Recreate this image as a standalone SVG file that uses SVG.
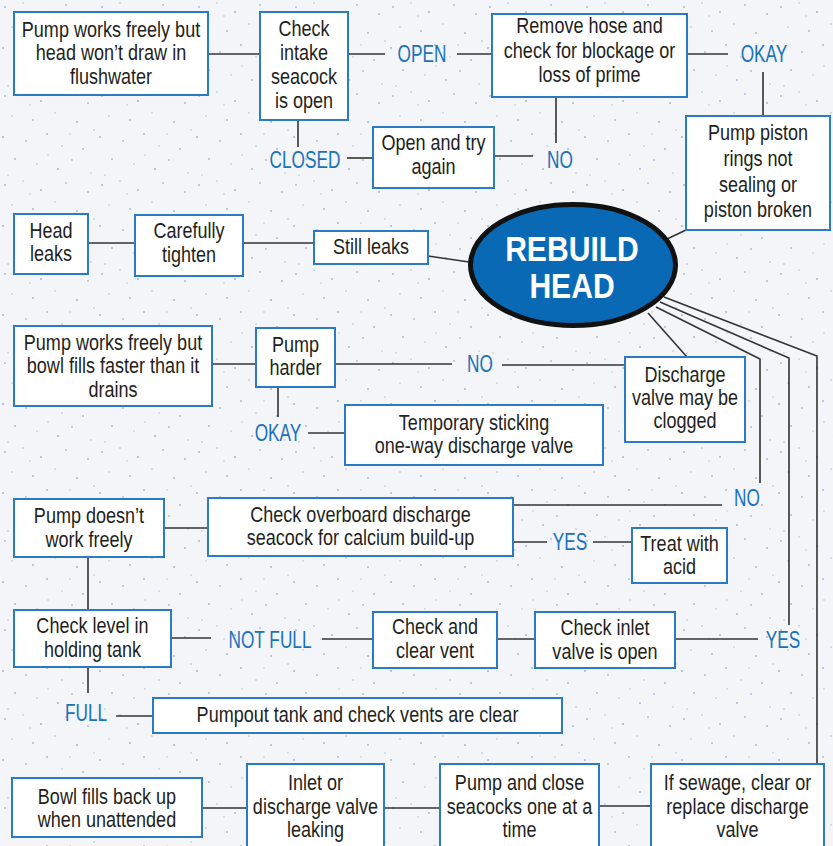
<svg xmlns="http://www.w3.org/2000/svg" width="833" height="846" viewBox="0 0 833 846">
<defs>
<pattern id="speck" width="97" height="89" patternUnits="userSpaceOnUse">
<g fill="#a7b8da">
<circle cx="5" cy="7" r="1"/><circle cx="23" cy="3" r="0.8"/><circle cx="41" cy="12" r="1.1"/><circle cx="66" cy="5" r="0.9"/><circle cx="88" cy="14" r="1"/>
<circle cx="12" cy="27" r="0.8"/><circle cx="33" cy="31" r="1"/><circle cx="55" cy="24" r="0.8"/><circle cx="77" cy="33" r="1.1"/><circle cx="94" cy="41" r="0.8"/>
<circle cx="3" cy="48" r="1.1"/><circle cx="26" cy="52" r="0.9"/><circle cx="47" cy="45" r="1"/><circle cx="62" cy="57" r="0.8"/><circle cx="83" cy="60" r="1"/>
<circle cx="15" cy="70" r="1"/><circle cx="37" cy="75" r="0.8"/><circle cx="58" cy="80" r="1.1"/><circle cx="72" cy="71" r="0.9"/><circle cx="91" cy="84" r="0.8"/>
<circle cx="8" cy="86" r="0.8"/><circle cx="48" cy="66" r="0.7"/><circle cx="30" cy="16" r="0.7"/><circle cx="70" cy="45" r="0.7"/>
</g>
</pattern>
<style>
.box{fill:#ffffff;stroke:#2a7bc4;stroke-width:2}
.t{font-family:"Liberation Sans",Arial,sans-serif;font-size:22px;fill:#231f20;text-anchor:middle}
.lb{font-family:"Liberation Sans",Arial,sans-serif;font-size:23px;fill:#1a72bb;text-anchor:middle}
.c{stroke:#333333;stroke-width:1.6;fill:none}
.big{font-family:"Liberation Sans",Arial,sans-serif;font-weight:bold;font-size:35px;fill:#ffffff;text-anchor:middle}
</style>
</defs>
<rect x="0" y="0" width="833" height="846" fill="#f3f5f9"/>
<rect x="0" y="0" width="833" height="846" fill="url(#speck)"/>

<g id="connectors" class="c">
<line x1="208" y1="54" x2="260" y2="54"/>
<line x1="348" y1="54" x2="385" y2="54"/>
<line x1="457" y1="54" x2="492" y2="54"/>
<line x1="687" y1="54" x2="728" y2="54"/>
<line x1="763" y1="72" x2="763" y2="116"/>
<line x1="686" y1="230" x2="667" y2="239"/>
<line x1="556" y1="97" x2="556" y2="143"/>
<line x1="494" y1="156" x2="533" y2="156"/>
<line x1="298" y1="120" x2="298" y2="147"/>
<line x1="347" y1="158" x2="373" y2="158"/>
<line x1="88" y1="243" x2="135" y2="243"/>
<line x1="243" y1="243" x2="314" y2="243"/>
<line x1="428" y1="256" x2="469" y2="262"/>
<line x1="212" y1="364" x2="256" y2="364"/>
<line x1="335" y1="364" x2="452" y2="364"/>
<line x1="502" y1="365" x2="625" y2="365"/>
<line x1="687" y1="357" x2="648" y2="313"/>
<line x1="278" y1="387" x2="278" y2="417"/>
<line x1="308" y1="433" x2="345" y2="433"/>
<polyline points="656,307 760,359 760,483"/>
<polyline points="660,302 789,358 789,625"/>
<polyline points="664,297 817,356 817,764"/>
<line x1="164" y1="528" x2="208" y2="528"/>
<line x1="513" y1="505" x2="722" y2="505"/>
<line x1="513" y1="542" x2="547" y2="542"/>
<line x1="593" y1="542" x2="632" y2="542"/>
<line x1="88" y1="557" x2="88" y2="610"/>
<line x1="171" y1="638" x2="211" y2="638"/>
<line x1="322" y1="639" x2="373" y2="639"/>
<line x1="497" y1="639" x2="535" y2="639"/>
<line x1="675" y1="639" x2="758" y2="639"/>
<line x1="88" y1="667" x2="88" y2="693"/>
<line x1="116" y1="716" x2="153" y2="716"/>
<line x1="202" y1="808" x2="247" y2="808"/>
<line x1="384" y1="808" x2="440" y2="808"/>
<line x1="599" y1="806" x2="651" y2="806"/>
</g>

<g id="labels">
<text class="lb" transform="translate(422 0) scale(0.75 1)" x="0" y="62">OPEN</text>
<text class="lb" transform="translate(764 0) scale(0.75 1)" x="0" y="62">OKAY</text>
<text class="lb" transform="translate(560 0) scale(0.75 1)" x="0" y="168">NO</text>
<text class="lb" transform="translate(305 0) scale(0.75 1)" x="0" y="168">CLOSED</text>
<text class="lb" transform="translate(480 0) scale(0.75 1)" x="0" y="372">NO</text>
<text class="lb" transform="translate(278 0) scale(0.75 1)" x="0" y="441">OKAY</text>
<text class="lb" transform="translate(747 0) scale(0.75 1)" x="0" y="506">NO</text>
<text class="lb" transform="translate(570 0) scale(0.75 1)" x="0" y="550">YES</text>
<text class="lb" transform="translate(270 0) scale(0.75 1)" x="0" y="648">NOT FULL</text>
<text class="lb" transform="translate(783 0) scale(0.75 1)" x="0" y="648">YES</text>
<text class="lb" transform="translate(86 0) scale(0.75 1)" x="0" y="721">FULL</text>
</g>

<g id="rebuild">
<ellipse cx="573" cy="265" rx="102.5" ry="60.5" fill="#0a69b4" stroke="#111111" stroke-width="5"/>
<text class="big" transform="translate(572 0) scale(0.86 1)"><tspan x="0" y="261">REBUILD</tspan><tspan x="0" y="298">HEAD</tspan></text>
</g>

<g id="n-flush"><rect class="box" x="14" y="12" width="194" height="83"/>
<text class="t" transform="translate(111 0) scale(0.82 1)"><tspan x="0" y="37">Pump works freely but</tspan><tspan x="0" y="60">head won’t draw in</tspan><tspan x="0" y="84">flushwater</tspan></text></g>

<g id="n-intake"><rect class="box" x="260" y="12" width="88" height="108"/>
<text class="t" transform="translate(304 0) scale(0.82 1)"><tspan x="0" y="36">Check</tspan><tspan x="0" y="60">intake</tspan><tspan x="0" y="84">seacock</tspan><tspan x="0" y="108">is open</tspan></text></g>

<g id="n-hose"><rect class="box" x="492" y="14" width="195" height="83"/>
<text class="t" transform="translate(589.5 0) scale(0.82 1)"><tspan x="0" y="33">Remove hose and</tspan><tspan x="0" y="58">check for blockage or</tspan><tspan x="0" y="82">loss of prime</tspan></text></g>

<g id="n-piston"><rect class="box" x="686" y="116" width="144" height="114"/>
<text class="t" transform="translate(758 0) scale(0.82 1)"><tspan x="0" y="140">Pump piston</tspan><tspan x="0" y="166">rings not</tspan><tspan x="0" y="192">sealing or</tspan><tspan x="0" y="217">piston broken</tspan></text></g>

<g id="n-opentry"><rect class="box" x="373" y="127" width="121" height="61"/>
<text class="t" transform="translate(433.5 0) scale(0.82 1)"><tspan x="0" y="150">Open and try</tspan><tspan x="0" y="174">again</tspan></text></g>

<g id="n-headleaks"><rect class="box" x="14" y="214" width="74" height="60"/>
<text class="t" transform="translate(51 0) scale(0.82 1)"><tspan x="0" y="238">Head</tspan><tspan x="0" y="261">leaks</tspan></text></g>

<g id="n-tighten"><rect class="box" x="135" y="215" width="108" height="61"/>
<text class="t" transform="translate(189 0) scale(0.82 1)"><tspan x="0" y="238">Carefully</tspan><tspan x="0" y="262">tighten</tspan></text></g>

<g id="n-still"><rect class="box" x="314" y="231" width="114" height="33"/>
<text class="t" transform="translate(371 0) scale(0.82 1)"><tspan x="0" y="254">Still leaks</tspan></text></g>

<g id="n-bowl"><rect class="box" x="14" y="326" width="198" height="80"/>
<text class="t" transform="translate(113 0) scale(0.82 1)"><tspan x="0" y="350">Pump works freely but</tspan><tspan x="0" y="373">bowl fills faster than it</tspan><tspan x="0" y="397">drains</tspan></text></g>

<g id="n-harder"><rect class="box" x="256" y="328" width="79" height="59"/>
<text class="t" transform="translate(295.5 0) scale(0.82 1)"><tspan x="0" y="352">Pump</tspan><tspan x="0" y="375">harder</tspan></text></g>

<g id="n-clogged"><rect class="box" x="625" y="357" width="120" height="85"/>
<text class="t" transform="translate(685 0) scale(0.82 1)"><tspan x="0" y="382">Discharge</tspan><tspan x="0" y="405">valve may be</tspan><tspan x="0" y="428">clogged</tspan></text></g>

<g id="n-temporary"><rect class="box" x="345" y="405" width="258" height="60"/>
<text class="t" transform="translate(474 0) scale(0.82 1)"><tspan x="0" y="430">Temporary sticking</tspan><tspan x="0" y="453">one-way discharge valve</tspan></text></g>

<g id="n-notfree"><rect class="box" x="14" y="499" width="150" height="58"/>
<text class="t" transform="translate(89 0) scale(0.82 1)"><tspan x="0" y="523">Pump doesn’t</tspan><tspan x="0" y="547">work freely</tspan></text></g>

<g id="n-overboard"><rect class="box" x="208" y="498" width="305" height="58"/>
<text class="t" transform="translate(360.5 0) scale(0.82 1)"><tspan x="0" y="522">Check overboard discharge</tspan><tspan x="0" y="545">seacock for calcium build-up</tspan></text></g>

<g id="n-acid"><rect class="box" x="632" y="528" width="95" height="55"/>
<text class="t" transform="translate(679.5 0) scale(0.82 1)"><tspan x="0" y="551">Treat with</tspan><tspan x="0" y="574">acid</tspan></text></g>

<g id="n-level"><rect class="box" x="14" y="610" width="157" height="57"/>
<text class="t" transform="translate(92.5 0) scale(0.82 1)"><tspan x="0" y="633">Check level in</tspan><tspan x="0" y="657">holding tank</tspan></text></g>

<g id="n-vent"><rect class="box" x="373" y="612" width="124" height="56"/>
<text class="t" transform="translate(435 0) scale(0.82 1)"><tspan x="0" y="634">Check and</tspan><tspan x="0" y="658">clear vent</tspan></text></g>

<g id="n-inlet"><rect class="box" x="535" y="612" width="140" height="56"/>
<text class="t" transform="translate(605 0) scale(0.82 1)"><tspan x="0" y="635">Check inlet</tspan><tspan x="0" y="659">valve is open</tspan></text></g>

<g id="n-pumpout"><rect class="box" x="153" y="698" width="409" height="35"/>
<text class="t" transform="translate(357.5 0) scale(0.82 1)"><tspan x="0" y="722">Pumpout tank and check vents are clear</tspan></text></g>

<g id="n-backup"><rect class="box" x="12" y="778" width="190" height="59"/>
<text class="t" transform="translate(107 0) scale(0.82 1)"><tspan x="0" y="804">Bowl fills back up</tspan><tspan x="0" y="827">when unattended</tspan></text></g>

<g id="n-leaking"><rect class="box" x="247" y="764" width="137" height="90"/>
<text class="t" transform="translate(315.5 0) scale(0.82 1)"><tspan x="0" y="790">Inlet or</tspan><tspan x="0" y="814">discharge valve</tspan><tspan x="0" y="837">leaking</tspan></text></g>

<g id="n-seacocks"><rect class="box" x="440" y="764" width="159" height="90"/>
<text class="t" transform="translate(519.5 0) scale(0.82 1)"><tspan x="0" y="790">Pump and close</tspan><tspan x="0" y="814">seacocks one at a</tspan><tspan x="0" y="837">time</tspan></text></g>

<g id="n-sewage"><rect class="box" x="651" y="764" width="173" height="90"/>
<text class="t" transform="translate(737.5 0) scale(0.82 1)"><tspan x="0" y="790">If sewage, clear or</tspan><tspan x="0" y="814">replace discharge</tspan><tspan x="0" y="837">valve</tspan></text></g>
</svg>
